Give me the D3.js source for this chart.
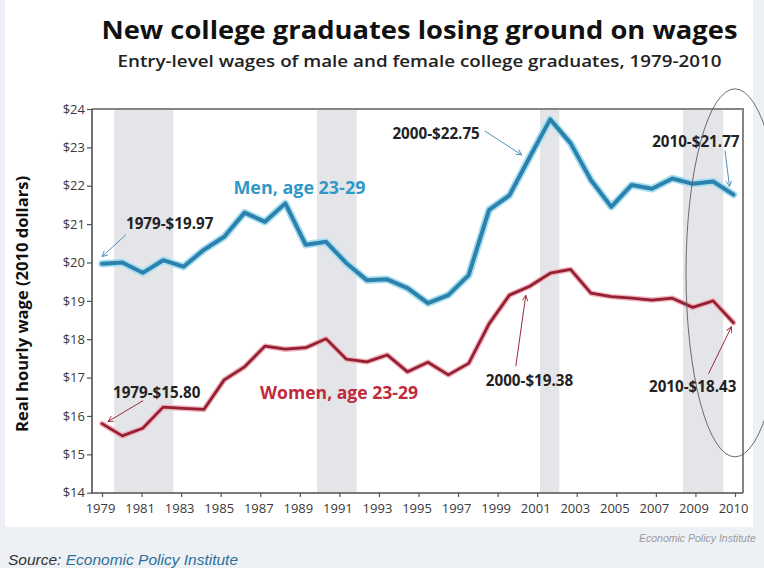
<!DOCTYPE html>
<html>
<head>
<meta charset="utf-8">
<script src="https://cdn.jsdelivr.net/npm/d3@7/dist/d3.min.js"></script>
<style>
  html, body { margin: 0; padding: 0; background: #edf1f6; }
  svg { display: block; }
</style>
</head>
<body>
<svg id="chart" width="764" height="568"></svg>
<script>
// Entry-level hourly wages (2010 dollars) of college graduates aged 23-29
const years = [1979, 1980, 1981, 1982, 1983, 1984, 1985, 1986, 1987, 1988, 1989,
               1990, 1991, 1992, 1993, 1994, 1995, 1996, 1997, 1998, 1999,
               2000, 2001, 2002, 2003, 2004, 2005, 2006, 2007, 2008, 2009, 2010];
const menWages = [19.97, 20.00, 19.73, 20.06, 19.89, 20.33, 20.67, 21.30, 21.06, 21.54, 20.46,
                  20.54, 19.98, 19.54, 19.56, 19.33, 18.94, 19.15, 19.67, 21.37, 21.75,
                  22.75, 23.73, 23.11, 22.15, 21.45, 22.02, 21.92, 22.19, 22.05, 22.11, 21.77];
const womenWages = [15.80, 15.48, 15.68, 16.23, 16.20, 16.17, 16.94, 17.28, 17.82, 17.74, 17.78,
                    18.01, 17.48, 17.41, 17.59, 17.15, 17.40, 17.07, 17.37, 18.40, 19.15,
                    19.38, 19.72, 19.82, 19.20, 19.11, 19.07, 19.02, 19.07, 18.83, 19.00, 18.43];

// Recession periods (shaded), in fractional years
const recessions = [[1979.6, 1982.5], [1989.55, 1991.5], [2000.5, 2001.45], [2007.52, 2009.5]];

// Axis labels
const xTickLabels = ["1979", "1981", "1983", "1985", "1987", "1989", "1991", "1993", "1995",
                     "1997", "1999", "2001", "2003", "2005", "2007", "2009", "2010"];
const yTickValues = [14, 15, 16, 17, 18, 19, 20, 21, 22, 23, 24];

// Call-outs: which series/year, and where the text and arrow sit relative to the point
const callouts = [
  { series: "men",   year: 1979, tdx: 24,    tdy: -34.7, anchor: "start", a0: [24, -29],  a1: [0, -7] },
  { series: "men",   year: 2000, tdx: -50,   tdy: -17.7, anchor: "end",   a0: [-45, -26], a1: [-8, -2] },
  { series: "men",   year: 2010, tdx: 6,     tdy: -47.6, anchor: "end",   a0: [-8.5, -44], a1: [-4, -8] },
  { series: "women", year: 1979, tdx: 11,    tdy: -26,   anchor: "start", a0: [41, -23],  a1: [6, -2] },
  { series: "women", year: 2000, tdx: -44,   tdy: 99.7,  anchor: "start", a0: [-14, 80],  a1: [-4, 9] },
  { series: "women", year: 2010, tdx: -84.5, tdy: 69,    anchor: "start", a0: [-25, 51],  a1: [-2, 4] }
];

const plot = { left: 92, right: 743, top: 109, bottom: 493 };
const blue = "#2b82ad", blueHalo = "#a9def0", blueText = "#2f98c8", blueArrow = "#4f93b8";
const red = "#962033", redHalo = "#efb3bd", redText = "#bf2a3d", redArrow = "#9a2a3b";

const svg = d3.select("#chart");

// White panel behind the chart
svg.append("rect").attr("x", 5).attr("y", 0).attr("width", 748).attr("height", 527).attr("fill", "#ffffff");

const x = d3.scaleLinear().domain([years[0], years[years.length - 1]]).range([102, 733.5]);
const xTick = d3.scalePoint().domain(xTickLabels).range([102, 735]);
const y = d3.scaleLinear().domain([14, 24]).range([492.7, 109]);

// Title and subtitle
svg.append("text")
  .attr("x", 419.5).attr("y", 39).attr("text-anchor", "middle")
  .attr("font-family", "'Open Sans', sans-serif").attr("font-weight", 700).attr("font-size", 25)
  .attr("fill", "#111").attr("textLength", 636).attr("lengthAdjust", "spacingAndGlyphs")
  .text("New college graduates losing ground on wages");

svg.append("text")
  .attr("x", 419.5).attr("y", 66.5).attr("text-anchor", "middle")
  .attr("font-family", "'Open Sans', sans-serif").attr("font-weight", 600).attr("font-size", 16.5)
  .attr("fill", "#222").attr("textLength", 604).attr("lengthAdjust", "spacingAndGlyphs")
  .text("Entry-level wages of male and female college graduates, 1979-2010");

// Recession shading
svg.append("g").selectAll("rect").data(recessions).join("rect")
  .attr("x", d => x(d[0])).attr("width", d => x(d[1]) - x(d[0]))
  .attr("y", plot.top).attr("height", plot.bottom - plot.top)
  .attr("fill", "#e4e5e8");

// Frame: grey top/right, dark left/bottom
svg.append("path")
  .attr("d", `M${plot.left},${plot.top}H${plot.right}V${plot.bottom}`)
  .attr("fill", "none").attr("stroke", "#858585").attr("stroke-width", 2);

// Axes
const yAxis = svg.append("g").attr("transform", `translate(${plot.left},0)`)
  .call(d3.axisLeft(y).tickValues(yTickValues).tickSize(5).tickSizeOuter(0).tickPadding(2)
        .tickFormat(d => "$" + d));
const xAxis = svg.append("g").attr("transform", `translate(0,${plot.bottom})`)
  .call(d3.axisBottom(xTick).tickSize(4).tickSizeOuter(0).tickPadding(7));
[xAxis, yAxis].forEach(g => {
  g.select(".domain").remove();
  g.selectAll(".tick line").attr("stroke", "#555").attr("stroke-width", 1.2);
  g.selectAll(".tick text").attr("font-family", "'Open Sans', sans-serif")
    .attr("font-size", 13).attr("fill", "#3a3a3a");
});
xAxis.selectAll(".tick text").attr("dx", -2);
svg.append("path")
  .attr("d", `M${plot.left},${plot.top}V${plot.bottom}H${plot.right}`)
  .attr("fill", "none").attr("stroke", "#505050").attr("stroke-width", 1.6);

// Y axis title
svg.append("text")
  .attr("transform", "translate(27.5,304) rotate(-90)")
  .attr("text-anchor", "middle")
  .attr("font-family", "'Open Sans', sans-serif").attr("font-weight", 700).attr("font-size", 16)
  .attr("fill", "#111").attr("textLength", 256).attr("lengthAdjust", "spacingAndGlyphs")
  .text("Real hourly wage (2010 dollars)");

// Lines with a soft halo
const line = d3.line().x((d, i) => x(years[i])).y(d => y(d)).curve(d3.curveLinear);
const series = { men: menWages, women: womenWages };
function drawSeries(values, halo, core, haloW, coreW) {
  svg.append("path").datum(values).attr("d", line)
    .attr("fill", "none").attr("stroke", halo).attr("stroke-width", haloW)
    .attr("stroke-linejoin", "round").attr("stroke-linecap", "round");
  svg.append("path").datum(values).attr("d", line)
    .attr("fill", "none").attr("stroke", core).attr("stroke-width", coreW)
    .attr("stroke-linejoin", "round").attr("stroke-linecap", "round");
}
drawSeries(womenWages, redHalo, red, 5.5, 2.8);
drawSeries(menWages, blueHalo, blue, 7.5, 4);

// Series labels
svg.append("text")
  .attr("x", x(1985.45)).attr("y", y(21.78))
  .attr("font-family", "'Open Sans', sans-serif").attr("font-weight", 700).attr("font-size", 17)
  .attr("fill", blueText).attr("textLength", 132).attr("lengthAdjust", "spacingAndGlyphs")
  .text("Men, age 23-29");
svg.append("text")
  .attr("x", x(1986.76)).attr("y", y(16.43))
  .attr("font-family", "'Open Sans', sans-serif").attr("font-weight", 700).attr("font-size", 17)
  .attr("fill", redText).attr("textLength", 158).attr("lengthAdjust", "spacingAndGlyphs")
  .text("Women, age 23-29");

// Arrow markers
const defs = svg.append("defs");
[["arrow-blue", blueArrow], ["arrow-red", redArrow]].forEach(([id, c]) => {
  defs.append("marker").attr("id", id)
    .attr("viewBox", "0 0 10 10").attr("refX", 9).attr("refY", 5)
    .attr("markerWidth", 7).attr("markerHeight", 7).attr("markerUnits", "userSpaceOnUse")
    .attr("orient", "auto")
    .append("path").attr("d", "M1,1 L9,5 L1,9").attr("fill", "none")
    .attr("stroke", c).attr("stroke-width", 1.3);
});

// Call-outs
const cg = svg.append("g");
callouts.forEach(c => {
  const i = years.indexOf(c.year);
  const v = series[c.series][i];
  const px = x(c.year), py = y(v);
  const isMen = c.series === "men";
  cg.append("line")
    .attr("x1", px + c.a0[0]).attr("y1", py + c.a0[1])
    .attr("x2", px + c.a1[0]).attr("y2", py + c.a1[1])
    .attr("stroke", isMen ? blueArrow : redArrow).attr("stroke-width", 1)
    .attr("marker-end", `url(#${isMen ? "arrow-blue" : "arrow-red"})`);
  cg.append("text")
    .attr("x", px + c.tdx).attr("y", py + c.tdy).attr("text-anchor", c.anchor)
    .attr("font-family", "'Open Sans', sans-serif").attr("font-weight", 700).attr("font-size", 15.2)
    .attr("fill", "#222")
    .text(`${c.year}-$${v.toFixed(2)}`);
});

// Highlight ellipse around the latest years
svg.append("ellipse")
  .attr("cx", x(2010) + 1.5).attr("cy", y(19.73))
  .attr("rx", 49).attr("ry", 184)
  .attr("fill", "none").attr("stroke", "#5c5c5c").attr("stroke-width", 0.9);

// Credits
svg.append("text")
  .attr("x", 639).attr("y", 542)
  .attr("font-family", "'Liberation Sans', Arial, sans-serif").attr("font-style", "italic")
  .attr("font-size", 10.5).attr("fill", "#9a9a9a")
  .text("Economic Policy Institute");
const src = svg.append("text")
  .attr("x", 8).attr("y", 565)
  .attr("font-family", "'Liberation Sans', Arial, sans-serif").attr("font-style", "italic")
  .attr("font-size", 15.5);
src.append("tspan").attr("fill", "#333").text("Source: ");
src.append("tspan").attr("fill", "#2d6f99").text("Economic Policy Institute");
</script>
</body>
</html>
